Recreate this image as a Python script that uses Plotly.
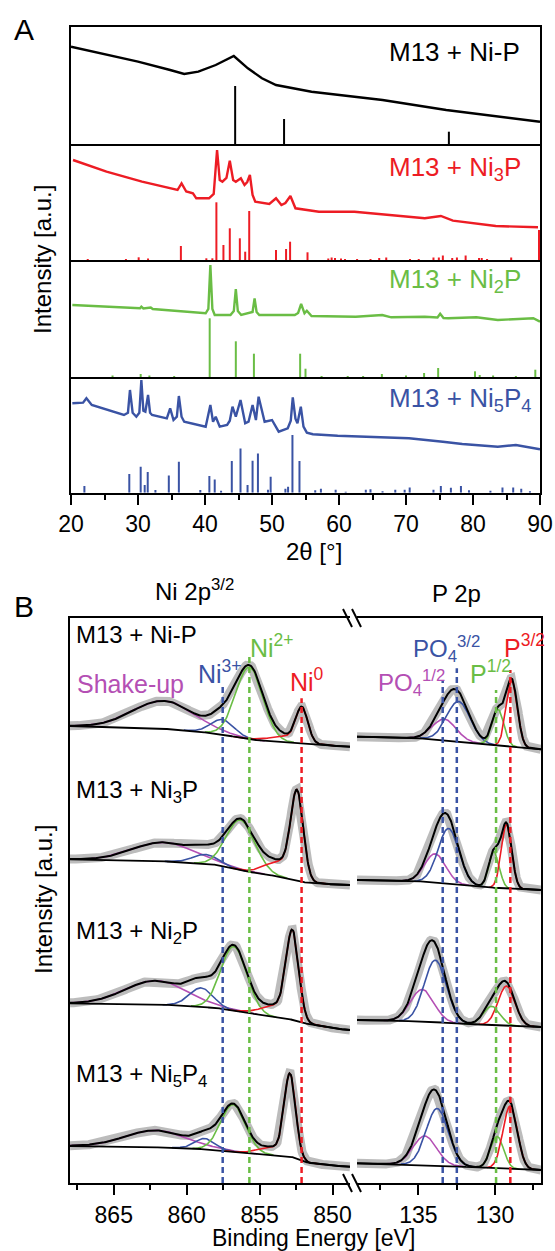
import numpy as np
import plotly.graph_objects as go

W, H = 555, 1251
FONT = "Liberation Sans, Arial, sans-serif"

RED = "#ed1c24"
GREEN = "#6abd45"
BLUE = "#3a53a4"
MAGENTA = "#b44fb4"
BLACK = "#000000"

# ---------------- panel A : XRD ----------------
nip_x = [20, 25.3, 30.0, 34.8, 36.9, 39.0, 41.6, 44.3, 46.4, 48.5, 50.6, 55.9, 60, 66.5, 76, 90]
nip_y = [97.3, 89, 82.3, 74, 70, 72.3, 79, 88, 75.7, 65.7, 59, 52.3, 49, 44, 34, 22.3]
nip_stick_pos = [44.5, 51.8, 76.4]
nip_stick_h = [58, 25, 12.3]

ni3p_x = [20.3, 25.3, 30.6, 35.9, 36.5, 37.2, 38.2, 38.7, 40.6, 41.3, 41.8, 42.2, 42.6, 43.2, 43.7,
          44.2, 44.6, 45.35, 45.9, 46.3, 46.7, 47.1, 47.5, 49.6, 50.6, 51.4, 52.0, 52.75, 53.5, 57,
          62.3, 67.5, 72.8, 75.2, 77, 83.4, 89.7]
ni3p_y = [100, 88.3, 78.3, 70, 76.7, 68.5, 66.7, 61.7, 61.7, 66, 110, 80, 78.3, 82, 99.3,
          80, 78.3, 81.7, 75, 78, 85, 65, 58.3, 56, 61.7, 55, 57, 64, 51.7, 48.3,
          48.3, 45, 41.7, 44, 39.3, 34, 32.7]
ni3p_stick_pos = [22.5, 28.2, 30.1, 31.5, 36.4, 40.2, 41.1, 41.7, 42.75, 43.7, 45.2, 46.0, 46.6, 50.6,
                  52.1, 52.7, 55.3, 58.4, 58.9, 59.4, 60.3, 60.9, 62.7, 64.7, 66.0, 67.05, 70.6, 71.9,
                  74.1, 74.9, 75.5, 76.9, 77.6, 78.9, 80.9, 81.3, 82.1, 85.7, 89.85]
ni3p_stick_h = [1, 1, 2.7, 1.5, 14, 1.7, 1.7, 57.7, 15, 31.7, 21.7, 8.3, 49, 10,
                11, 18.3, 7.7, 1.5, 2.5, 2, 1.5, 1, 1, 1, 2, 2.5, 1, 1,
                2.5, 2.5, 4.5, 2, 2.5, 4.5, 2, 2, 1, 2.5, 30]

ni2p_x = [20.2, 25, 30.3, 30.5, 30.8, 31.9, 32.2, 40.1, 40.5, 40.8, 41.1, 41.45, 43.8, 44.3, 44.6,
          44.9, 45.4, 47.1, 47.4, 47.7, 48.1, 53.4, 53.9, 54.35, 54.85, 55.2, 55.9, 62.5, 66.45,
          67.8, 72.8, 74.7, 75.1, 75.6, 76.3, 80.5, 83.7, 89.0, 90]
ni2p_y = [72, 70.5, 68.7, 70.3, 68.5, 69.5, 68, 63.7, 68, 112, 68, 62, 62, 66, 88,
          66, 62, 65, 78.7, 65, 62, 62, 64, 73, 63.7, 66.3, 61, 60.3, 62,
          59.7, 60.3, 59.5, 63.3, 59, 58.7, 59.7, 57, 58.7, 55.3]
ni2p_stick_pos = [26.2, 30.4, 31.7, 35.4, 40.7, 44.6, 47.3, 54.2, 55.0, 57.4, 61.3, 63.6, 66.4, 70.0,
                  72.7, 74.8, 80.3, 81.0, 83.0, 86.4, 89.3]
ni2p_stick_h = [1.5, 3, 1.5, 1, 58.7, 35.7, 23.3, 23.3, 8.3, 1, 1, 1, 3, 1.5,
                4, 9, 5.7, 2, 1.5, 1, 7.3]

ni5p4_x = [20.2, 21.8, 22.3, 23.1, 27.9, 28.5, 28.8, 29.2, 29.75, 30.2, 30.5, 30.8, 31.1, 31.5, 31.8,
           32.1, 34.3, 34.8, 35.3, 35.8, 36.1, 36.5, 36.9, 40.1, 40.8, 41.2, 41.6, 42.2, 43.3, 43.7,
           44.1, 44.6, 45.3, 46.0, 46.5, 47.1, 47.6, 48.0, 48.9, 50.0, 51.0, 52.35, 52.8, 53.1, 53.5,
           53.8, 54.3, 54.7, 55.2, 56.1, 59.8, 65.1, 70.45, 75.5, 78.4, 83.7, 86.4, 90]
ni5p4_y = [89.4, 90, 94.4, 87.7, 77.7, 80, 102.7, 80, 76, 80, 112.7, 82, 81, 97.7, 80,
           77.7, 74.4, 84.4, 72.7, 76, 96.7, 76, 71, 66, 87.7, 71, 76, 66, 67.7, 72,
           86, 76, 92.7, 69.4, 71, 87.7, 72.7, 96, 71, 72.7, 61, 64.4, 72, 95.4, 74,
           69.4, 86, 66, 60, 58.5, 57, 56, 54.4, 51, 48.7, 46, 47.7, 43.4]
ni5p4_stick_pos = [22.0, 28.7, 30.4, 31.0, 31.45, 32.6, 34.6, 36.1, 39.3, 40.65, 41.45, 42.4, 44.0,
                   45.3, 46.35, 47.1, 47.9, 49.4, 49.8, 52.0, 52.4, 53.05, 54.1, 56.45, 57.3, 59.5,
                   61.0, 64.0, 64.7, 66.5, 68.4, 69.8, 70.55, 74.1, 75.2, 76.7, 78.2, 79.4, 82.6,
                   84.4, 86.0, 87.2, 88.5]
ni5p4_stick_h = [6.7, 18.7, 26, 7.7, 20.7, 2.7, 17.3, 31, 2.7, 16.7, 13.3, 2, 31.7,
                 44.3, 7.7, 32, 39.3, 3, 16, 4, 6, 57.7, 31.7, 2.5, 4, 3,
                 1, 3, 3.5, 1.5, 3, 3, 5.3, 3, 6.7, 5, 6.7, 2.5, 2,
                 5.3, 5.3, 4, 1.5]

# ---------------- panel B : XPS fits ----------------
# order of samples: Ni-P, Ni3P, Ni2P, Ni5P4 (top to bottom)
ni_bg_x = [849, 851.6, 852.6, 854.3, 855.8, 857.8, 860.7, 868]
ni_bg_y = [[436.3, 438.9, 440.3, 441.3, 444, 449, 453.7, 457],
           [298, 299.7, 303, 308, 311.3, 318, 321.3, 323.7],
           [153, 158.5, 163, 166.3, 170.3, 174.7, 178, 179.7],
           [16.3, 19.7, 25.7, 28, 29.7, 33, 35.3, 37]]
p_bg_x = [127, 129.5, 131, 133, 134.5, 139]
p_bg_y = [[433.7, 437, 439.5, 442.5, 444.5, 446.3],
          [293, 294.5, 296.5, 299.5, 301.5, 303],
          [156, 157, 158.5, 160, 161.5, 163],
          [13, 14.3, 15.5, 17, 18, 19.7]]

# peak centre [eV], height [a.u.], FWHM [eV]
shake_c = [861.6, 861.6, 862.1, 862.1]
shake_a = [28, 19, 24, 17]
shake_w = [5.0, 5.0, 5.0, 5.0]
ni3_c = [857.55, 858.7, 859.0, 858.76]
ni3_a = [15, 9.5, 19, 10.7]
ni3_w = [1.9, 2.0, 1.9, 1.6]
ni2_c = [855.7, 856.3, 856.77, 856.81]
ni2_a = [72, 50, 64, 47]
ni2_w = [2.2, 2.3, 2.1, 2.0]
ni0_c = [852.1, 852.43, 852.75, 852.92]
ni0_a = [33.5, 83, 83, 79]
ni0_w = [0.95, 1.0, 1.0, 0.9]
ni0_tail_c = [853.3, 853.6, 853.8, 854.0]
ni0_tail_a = [6, 15, 12, 8]
ni0_tail_w = [2.5, 2.4, 2.4, 2.4]

po4_12_c = [133.31, 133.9, 134.75, 134.58]
po4_12_a = [21, 28.5, 32, 29]
po4_12_w = [1.8, 1.6, 1.8, 1.8]
po4_32_c = [132.38, 133.03, 133.89, 133.77]
po4_32_a = [40, 55, 62, 57]
po4_32_w = [1.8, 1.6, 1.7, 1.7]
p12_c = [129.8, 130.06, 130.2, 129.86]
p12_a = [36, 36, 19, 32]
p12_w = [0.9, 0.8, 1.3, 1.0]
p32_c = [128.9, 129.25, 129.25, 129.01]
p32_a = [66, 64, 40, 63]
p32_w = [0.85, 0.8, 1.3, 1.1]

ni_ref_pos = [857.53, 855.7, 852.12]
ni_ref_top = [496.3, 529.7, 484.7]
p_ref_pos = [133.41, 132.49, 129.93, 129.0]
p_ref_top = [503, 514.7, 493, 513]


def px(x):
    return x / W


def py(y):
    return 1 - y / H


def gauss(x, c, a, w):
    return a * np.exp(-4 * np.log(2) * ((x - c) / w) ** 2)


def sticks(pos, h):
    xs, ys = [], []
    for p, v in zip(pos, h):
        xs += [p, p, None]
        ys += [0, v, None]
    return xs, ys


fig = go.Figure()

# XRD subpanels, top to bottom (pixel rows of each box)
rows = [(27, 144), (144, 260), (260, 377), (377, 492.7)]
xrd = [(nip_x, nip_y, nip_stick_pos, nip_stick_h, BLACK),
       (ni3p_x, ni3p_y, ni3p_stick_pos, ni3p_stick_h, RED),
       (ni2p_x, ni2p_y, ni2p_stick_pos, ni2p_stick_h, GREEN),
       (ni5p4_x, ni5p4_y, ni5p4_stick_pos, ni5p4_stick_h, BLUE)]

for i, (xx, yy, sp, sh, col) in enumerate(xrd):
    n = '' if i == 0 else str(i + 1)
    sx, sy = sticks(sp, sh)
    fig.add_trace(go.Scatter(x=sx, y=sy, mode='lines', line=dict(color=col, width=2),
                             xaxis='x' + n, yaxis='y' + n, hoverinfo='skip'))
    fig.add_trace(go.Scatter(x=xx, y=yy, mode='lines', line=dict(color=col, width=2.4),
                             xaxis='x' + n, yaxis='y' + n))
    top, bot = rows[i]
    # only the first box draws its own top edge, the others share the line above
    ax = dict(domain=[px(71), px(540)], range=[20, 90], showline=True, mirror=(i == 0),
              linecolor='black', linewidth=2, showgrid=False, zeroline=False, automargin=False,
              anchor='y' + n, showticklabels=False, ticks='')
    if i == 3:
        ax.update(showticklabels=True, ticks='outside', ticklen=10, tickwidth=2,
                  tickcolor='black', tick0=20, dtick=10,
                  tickfont=dict(size=23, family=FONT, color='black'),
                  minor=dict(ticks='outside', dtick=5, ticklen=5, tickwidth=2, tickcolor='black'))
    ay = dict(domain=[py(bot), py(top)], range=[0, bot - top], showline=True, mirror=True,
              linecolor='black', linewidth=2, showgrid=False, zeroline=False, automargin=False,
              showticklabels=False, ticks='', anchor='x' + n)
    fig.layout['xaxis' + n] = ax
    fig.layout['yaxis' + n] = ay

# XPS
ni_grid = np.arange(848.8, 868.001, 0.05)
p_grid = np.arange(127.0, 139.001, 0.02)


def draw_spectrum(grid, bgx, bgy, comps, xa, ya):
    bg = np.interp(grid, bgx, bgy)
    total = bg.copy()
    comp_lines = []
    for c, a, w, col, extra in comps:
        g = gauss(grid, c, a, w)
        lo, hi = c - 1.4 * w, c + 1.4 * w
        if extra is not None:
            g = g + gauss(grid, *extra)
            lo = min(lo, extra[0] - 1.4 * extra[2])
            hi = max(hi, extra[0] + 1.4 * extra[2])
        total += g
        m = (grid >= lo) & (grid <= hi)
        comp_lines.append((grid[m], (bg + g)[m], col))
    # measured points (grey cloud)
    fig.add_trace(go.Scatter(x=grid, y=total, mode='lines',
                             line=dict(color='rgba(95,95,95,0.42)', width=9),
                             xaxis=xa, yaxis=ya))
    for gx, gy, col in comp_lines:
        fig.add_trace(go.Scatter(x=gx, y=gy, mode='lines', line=dict(color=col, width=1.6),
                                 xaxis=xa, yaxis=ya))
    fig.add_trace(go.Scatter(x=grid, y=bg, mode='lines', line=dict(color='black', width=1.8),
                             xaxis=xa, yaxis=ya))
    fig.add_trace(go.Scatter(x=grid, y=total, mode='lines', line=dict(color='black', width=2),
                             xaxis=xa, yaxis=ya))


for k in range(4):
    ni_list = [(shake_c[k], shake_a[k], shake_w[k], MAGENTA, None),
               (ni3_c[k], ni3_a[k], ni3_w[k], BLUE, None),
               (ni2_c[k], ni2_a[k], ni2_w[k], GREEN, None),
               (ni0_c[k], ni0_a[k], ni0_w[k], RED,
                (ni0_tail_c[k], ni0_tail_a[k], ni0_tail_w[k]))]
    draw_spectrum(ni_grid, ni_bg_x, ni_bg_y[k], ni_list, 'x5', 'y5')
    p_list = [(po4_12_c[k], po4_12_a[k], po4_12_w[k], MAGENTA, None),
              (po4_32_c[k], po4_32_a[k], po4_32_w[k], BLUE, None),
              (p12_c[k], p12_a[k], p12_w[k], GREEN, None),
              (p32_c[k], p32_a[k], p32_w[k], RED, None)]
    draw_spectrum(p_grid, p_bg_x, p_bg_y[k], p_list, 'x6', 'y6')

# reference dashed lines
for pos, top, col in zip(ni_ref_pos, ni_ref_top, [BLUE, GREEN, RED]):
    fig.add_trace(go.Scatter(x=[pos, pos], y=[0, top], mode='lines',
                             line=dict(color=col, width=2.5, dash='6px,4px'),
                             xaxis='x5', yaxis='y5'))
for pos, top, col in zip(p_ref_pos, p_ref_top, [BLUE, BLUE, GREEN, RED]):
    fig.add_trace(go.Scatter(x=[pos, pos], y=[0, top], mode='lines',
                             line=dict(color=col, width=2.5, dash='6px,4px'),
                             xaxis='x6', yaxis='y6'))

xps_tick = dict(showline=True, mirror=True, linecolor='black', linewidth=2, showgrid=False,
                zeroline=False, automargin=False, ticks='outside', ticklen=10, tickwidth=2,
                tickcolor='black', dtick=5, tickfont=dict(size=23, family=FONT, color='black'),
                minor=dict(ticks='outside', dtick=2.5, ticklen=5, tickwidth=2, tickcolor='black'))
fig.layout.xaxis5 = dict(domain=[px(70), px(350)], range=[868, 848.8], anchor='y5', **xps_tick)
fig.layout.xaxis6 = dict(domain=[px(357), px(541)], range=[139, 127], anchor='y6', **xps_tick)
ydom = [py(1183), py(618)]
fig.layout.yaxis5 = dict(domain=ydom, range=[0, 565], anchor='x5', showline=True,
                         linecolor='black', linewidth=2, showgrid=False, zeroline=False,
                         automargin=False, showticklabels=False, ticks='')
fig.layout.yaxis6 = dict(domain=ydom, range=[0, 565], anchor='x6', side='right', showline=True,
                         linecolor='black', linewidth=2, showgrid=False, zeroline=False,
                         automargin=False, showticklabels=False, ticks='')

# axis break marks
shapes = []
for yc in (618, 1183):
    for x0 in (343, 352):
        shapes.append(dict(type='line', xref='paper', yref='paper',
                           x0=px(x0), y0=py(yc - 9), x1=px(x0 + 9), y1=py(yc + 9),
                           line=dict(color='black', width=2)))


def ann(text, x, y, size=24, color='black', xanchor='center', yanchor='middle', angle=0):
    return dict(text=text, x=px(x), y=py(y), xref='paper', yref='paper', showarrow=False,
                xanchor=xanchor, yanchor=yanchor, textangle=angle,
                font=dict(size=size, family=FONT, color=color))


annotations = [
    ann('A', 24, 30, 30),
    ann('M13 + Ni-P', 387, 52, 26, BLACK, 'left'),
    ann('M13 + Ni<sub>3</sub>P', 387, 168, 26, RED, 'left'),
    ann('M13 + Ni<sub>2</sub>P', 387, 281, 26, GREEN, 'left'),
    ann('M13 + Ni<sub>5</sub>P<sub>4</sub>', 387, 400, 26, BLUE, 'left'),
    ann('Intensity [a.u.]', 43, 260, 24, angle=-90),
    ann('2θ [°]', 314, 552, 24),
    ann('B', 24, 607, 30),
    ann('Ni 2p<sup>3/2</sup>', 194, 590, 24),
    ann('P 2p', 456, 593, 24),
    ann('M13 + Ni-P', 74, 634, 24, BLACK, 'left'),
    ann('M13 + Ni<sub>3</sub>P', 74, 792, 24, BLACK, 'left'),
    ann('M13 + Ni<sub>2</sub>P', 74, 932, 24, BLACK, 'left'),
    ann('M13 + Ni<sub>5</sub>P<sub>4</sub>', 74, 1075, 24, BLACK, 'left'),
    ann('Intensity [a.u.]', 43, 900, 24, angle=-90),
    ann('Binding Energy [eV]', 313, 1238, 23),
    ann('Shake-up', 75, 684, 25, MAGENTA, 'left'),
    ann('Ni<sup>3+</sup>', 196, 672, 25, BLUE, 'left'),
    ann('Ni<sup>2+</sup>', 248, 646, 25, GREEN, 'left'),
    ann('Ni<sup>0</sup>', 288, 680, 25, RED, 'left'),
    ann('PO<sub>4</sub><sup>3/2</sup>', 411, 649, 24, BLUE, 'left'),
    ann('PO<sub>4</sub><sup>1/2</sup>', 376, 683, 24, MAGENTA, 'left'),
    ann('P<sup>1/2</sup>', 468, 672, 25, GREEN, 'left'),
    ann('P<sup>3/2</sup>', 502, 646, 25, RED, 'left'),
]

fig.update_layout(width=W, height=H,
                  margin=dict(l=0, r=0, t=0, b=0, pad=0, autoexpand=False),
                  paper_bgcolor='white', plot_bgcolor='white', showlegend=False,
                  font=dict(family=FONT, size=23, color='black'),
                  shapes=shapes, annotations=annotations)

# the page body has a default 8px margin and may show scrollbars; pin the figure to the corner
fig.write_html("out.html", config={'displayModeBar': False, 'responsive': False},
               post_script="document.body.style.margin='0px';"
                           "document.body.style.overflow='hidden';")
